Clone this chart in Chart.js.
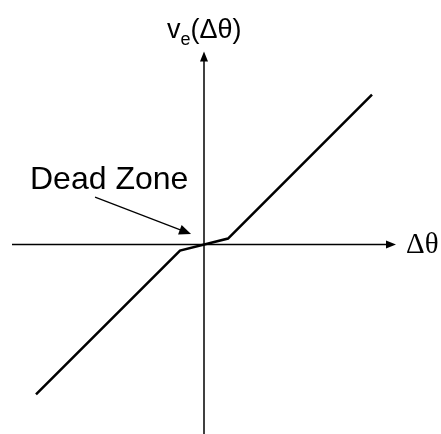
<!DOCTYPE html>
<html>
<head>
<meta charset="utf-8">
<script src="https://cdn.jsdelivr.net/npm/chart.js@4/dist/chart.umd.min.js"></script>
<style>
  html, body { margin: 0; padding: 0; background: #fff; }
</style>
</head>
<body>
<canvas id="deadZone" width="441" height="434"></canvas>
<script>
// breakpoints of the dead-zone characteristic: error input Δθ -> output v_e
const deltaTheta = [-7, -1, 1, 7];
const vOut = [-6.25, -0.25, 0.25, 6.25];

// axis extents in data units (arrowhead at the positive end)
const xAxisRange = [-8, 8];
const yAxisRange = [-8, 8.05];

// callout: text anchor and the arrow pointing into the flat segment
const calloutText = "Dead Zone";
const calloutAt = { x: -7.25, y: 2.3 };
const calloutArrow = { from: { x: -4.54, y: 1.98 }, to: { x: -0.54, y: 0.44 } };

function arrowHead(ctx, x1, y1, x2, y2, len, half) {
  const a = Math.atan2(y2 - y1, x2 - x1);
  ctx.beginPath();
  ctx.moveTo(x2, y2);
  ctx.lineTo(x2 - len * Math.cos(a) + half * Math.sin(a), y2 - len * Math.sin(a) - half * Math.cos(a));
  ctx.lineTo(x2 - len * Math.cos(a) - half * Math.sin(a), y2 - len * Math.sin(a) + half * Math.cos(a));
  ctx.closePath();
  ctx.fill();
}

const axesPlugin = {
  id: "axesArrows",
  beforeDatasetsDraw(chart) {
    const { ctx, scales: { x, y } } = chart;
    const x0 = x.getPixelForValue(0), y0 = y.getPixelForValue(0);
    ctx.save();
    ctx.strokeStyle = "#000";
    ctx.fillStyle = "#000";
    ctx.lineWidth = 1.5;

    // horizontal axis
    const xl = x.getPixelForValue(xAxisRange[0]), xr = x.getPixelForValue(xAxisRange[1]);
    ctx.beginPath();
    ctx.moveTo(xl, y0);
    ctx.lineTo(xr - 6, y0);
    ctx.stroke();
    arrowHead(ctx, xl, y0, xr, y0, 10, 4);

    // vertical axis
    const yb = y.getPixelForValue(yAxisRange[0]), yt = y.getPixelForValue(yAxisRange[1]);
    ctx.beginPath();
    ctx.moveTo(x0, yb);
    ctx.lineTo(x0, yt + 6);
    ctx.stroke();
    arrowHead(ctx, x0, yb, x0, yt, 10, 4);
    ctx.restore();
  },
  afterDatasetsDraw(chart) {
    const { ctx, scales: { x, y } } = chart;
    const x0 = x.getPixelForValue(0), y0 = y.getPixelForValue(0);
    ctx.save();
    ctx.fillStyle = "#000";
    ctx.strokeStyle = "#000";
    ctx.textBaseline = "alphabetic";
    ctx.textAlign = "left";

    // y-axis title: v_e(Δθ)
    let tx = x0 - 37, ty = y.getPixelForValue(yAxisRange[1]) - 14;
    ctx.font = "27px 'Liberation Sans', Arial, sans-serif";
    ctx.fillText("v", tx, ty);
    tx += ctx.measureText("v").width;
    ctx.font = "18px 'Liberation Sans', Arial, sans-serif";
    ctx.fillText("e", tx, ty + 7);
    tx += ctx.measureText("e").width;
    ctx.font = "27px 'Liberation Sans', Arial, sans-serif";
    ctx.fillText("(Δθ)", tx, ty);

    // x-axis title
    ctx.font = "29px 'Liberation Serif', 'Times New Roman', serif";
    ctx.textBaseline = "middle";
    ctx.fillText("Δθ", x.getPixelForValue(xAxisRange[1]) + 10, y0 + 1);

    // dead zone callout
    ctx.textBaseline = "alphabetic";
    ctx.font = "32px 'Liberation Sans', Arial, sans-serif";
    ctx.fillText(calloutText, x.getPixelForValue(calloutAt.x), y.getPixelForValue(calloutAt.y));
    const ax1 = x.getPixelForValue(calloutArrow.from.x), ay1 = y.getPixelForValue(calloutArrow.from.y);
    const ax2 = x.getPixelForValue(calloutArrow.to.x), ay2 = y.getPixelForValue(calloutArrow.to.y);
    const ang = Math.atan2(ay2 - ay1, ax2 - ax1);
    ctx.lineWidth = 1.2;
    ctx.beginPath();
    ctx.moveTo(ax1, ay1);
    ctx.lineTo(ax2 - 8 * Math.cos(ang), ay2 - 8 * Math.sin(ang));
    ctx.stroke();
    arrowHead(ctx, ax1, ay1, ax2, ay2, 12, 5);
    ctx.restore();
  }
};

new Chart(document.getElementById("deadZone"), {
  type: "scatter",
  data: {
    datasets: [{
      data: deltaTheta.map((v, i) => ({ x: v, y: vOut[i] })),
      showLine: true,
      borderColor: "#000",
      borderWidth: 2.5,
      pointRadius: 0,
      tension: 0
    }]
  },
  options: {
    responsive: false,
    animation: false,
    layout: { padding: 0 },
    plugins: { legend: { display: false }, tooltip: { enabled: false } },
    scales: {
      x: { type: "linear", min: -8.5, max: 9.875, display: false },
      y: { type: "linear", min: -7.9, max: 10.2, display: false }
    }
  },
  plugins: [axesPlugin]
});
</script>
</body>
</html>
